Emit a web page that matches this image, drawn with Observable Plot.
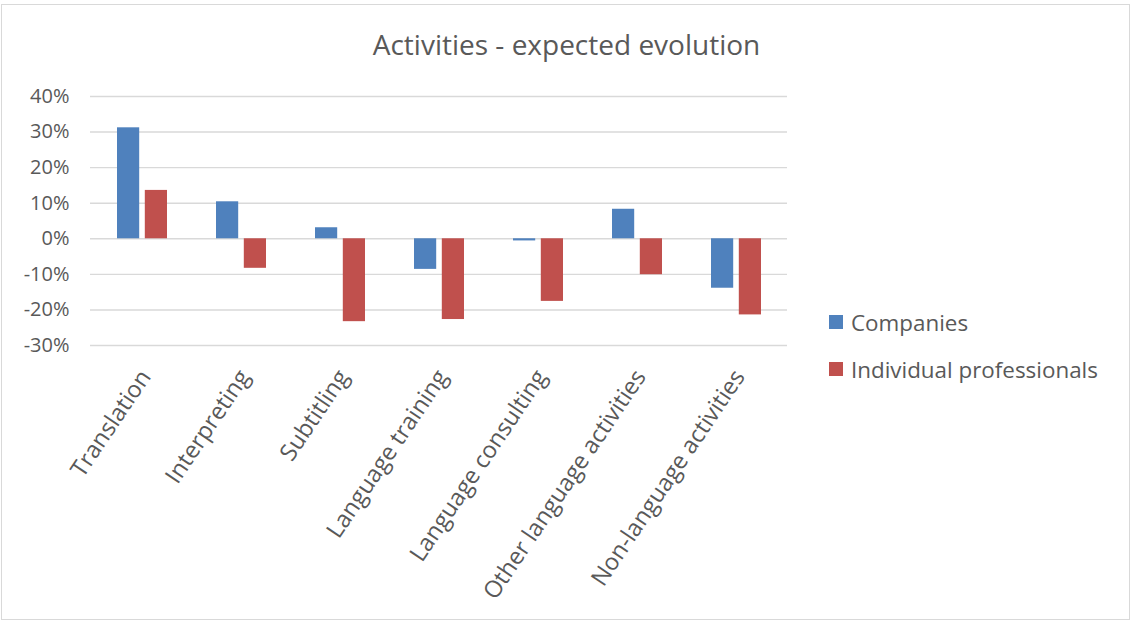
<!DOCTYPE html>
<html>
<head>
<meta charset="utf-8">
<script src="https://cdn.jsdelivr.net/npm/d3@7"></script>
<script src="https://cdn.jsdelivr.net/npm/@observablehq/plot@0.6"></script>
<style>
  html, body { margin: 0; padding: 0; background: #fff; }
  #wrap { position: relative; width: 1133px; height: 622px; font-family: "Open Sans", sans-serif; color: #595959; }
  #frame { position: absolute; left: 1px; top: 4px; width: 1129px; height: 616px; border: 1px solid #d9d9d9; box-sizing: border-box; pointer-events: none; }
  #title { position: absolute; left: 0; width: 1133px; top: 24px; text-align: center; font-size: 28px; line-height: 40px; color: #595959; }
  #legend { position: absolute; left: 829px; top: 305px; font-size: 22.4px; color: #595959; }
  .item { display: flex; align-items: center; height: 34px; margin-bottom: 13px; }
  .sw { width: 14px; height: 14px; margin-right: 8px; }
  #chart { position: absolute; left: 0; top: 0; }
</style>
</head>
<body>
<div id="wrap">
  <div id="chart"></div>
  <div id="title">Activities - expected evolution</div>
  <div id="legend"></div>
  <div id="frame"></div>
</div>
<script>
const categories = ["Translation", "Interpreting", "Subtitling", "Language training", "Language consulting", "Other language activities", "Non-language activities"];
const seriesNames = ["Companies", "Individual professionals"];
const companies = [0.312, 0.104, 0.031, -0.086, -0.006, 0.083, -0.139];
const individuals = [0.136, -0.083, -0.233, -0.227, -0.176, -0.101, -0.214];
const yTicks = [-0.3, -0.2, -0.1, 0, 0.1, 0.2, 0.3, 0.4];
const colors = ["#4f81bd", "#c0504d"];

const compData = categories.map((c, i) => ({category: c, value: companies[i]}));
const indData = categories.map((c, i) => ({category: c, value: individuals[i]}));

const chart = Plot.plot({
  width: 1133,
  height: 622,
  marginTop: 96,
  marginBottom: 277,
  marginLeft: 90,
  marginRight: 346,
  style: {fontFamily: "Open Sans, sans-serif", fontSize: "20px", color: "#595959", background: "transparent"},
  x: {domain: categories, paddingInner: 0.5, paddingOuter: 0.25, label: null},
  y: {domain: [-0.3, 0.4], label: null},
  marks: [
    Plot.ruleY(yTicks, {stroke: "#d9d9d9", strokeWidth: 1.4}),
    Plot.barY(compData, {x: "category", y: "value", fill: colors[0], insetRight: 27.8}),
    Plot.barY(indData, {x: "category", y: "value", fill: colors[1], insetLeft: 27.8}),
    Plot.axisY({ticks: yTicks, tickFormat: d => Math.round(d * 100) + "%", tickSize: 0, tickPadding: 21, fill: "#595959", fontSize: 20, label: null}),
    Plot.axisX({tickSize: 0, tickRotate: -56, tickPadding: 27, fill: "#595959", fontSize: 23.5, label: null, dx: 3})
  ]
});
document.getElementById("chart").appendChild(chart);

const legend = document.getElementById("legend");
seriesNames.forEach((name, i) => {
  const it = document.createElement("div");
  it.className = "item";
  const sw = document.createElement("div");
  sw.className = "sw";
  sw.style.background = colors[i];
  const t = document.createElement("span");
  t.textContent = name;
  it.appendChild(sw);
  it.appendChild(t);
  legend.appendChild(it);
});
</script>
</body>
</html>
